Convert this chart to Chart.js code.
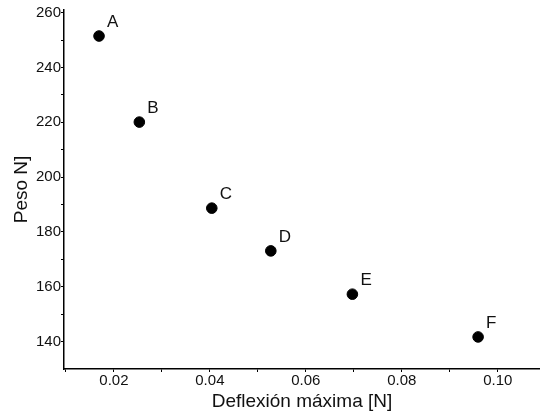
<!DOCTYPE html>
<html>
<head>
<meta charset="utf-8">
<script src="https://cdn.jsdelivr.net/npm/chart.js@4"></script>
<style>
  html, body { margin: 0; padding: 0; background: #fff; }
  #wrap { width: 540px; height: 417px; }
</style>
</head>
<body>
<div id="wrap"><canvas id="chart" width="540" height="417"></canvas></div>
<script>
const puntos = ["A", "B", "C", "D", "E", "F"];
const deflexion = [0.0169, 0.0253, 0.0404, 0.0527, 0.0697, 0.0959];
const peso = [251.5, 220.1, 188.7, 173.1, 157.3, 141.7];
const xTicks = [0.02, 0.04, 0.06, 0.08, 0.10];
const yTicks = [140, 160, 180, 200, 220, 240, 260];

const FONT = "'Liberation Sans', Arial, sans-serif";

// letras junto a cada punto
const letterPlugin = {
  id: "letters",
  afterDatasetsDraw(chart) {
    const ctx = chart.ctx;
    const meta = chart.getDatasetMeta(0);
    ctx.save();
    ctx.fillStyle = "#111";
    ctx.font = "17px " + FONT;
    ctx.textAlign = "left";
    ctx.textBaseline = "alphabetic";
    meta.data.forEach((pt, i) => {
      ctx.fillText(puntos[i], pt.x + 8, pt.y - 9);
    });
    ctx.restore();
  }
};

const ctx = document.getElementById("chart").getContext("2d");
new Chart(ctx, {
  type: "scatter",
  data: {
    datasets: [{
      data: deflexion.map((x, i) => ({ x, y: peso[i] })),
      backgroundColor: "#000",
      borderColor: "#000",
      pointRadius: 5.3,
      pointHoverRadius: 5.3
    }]
  },
  options: {
    responsive: false,
    animation: false,
    layout: { autoPadding: false, padding: { top: 10, right: 0, left: 0, bottom: 0 } },
    plugins: { legend: { display: false }, tooltip: { enabled: false } },
    scales: {
      x: {
        type: "linear",
        min: 0.0096,
        max: 0.1088,
        afterBuildTicks(scale) {
          const t = [];
          for (let v = 0.01; v <= 0.1081; v += 0.01) t.push({ value: Math.round(v * 100) / 100 });
          scale.ticks = t.filter(k => k.value >= 0.0096);
        },
        ticks: {
          color: "#111",
          font: { family: FONT, size: 15 },
          padding: 0,
          maxRotation: 0,
          autoSkip: false,
          callback: (v) => xTicks.some(t => Math.abs(t - v) < 1e-6) ? v.toFixed(2) : ""
        },
        grid: {
          drawOnChartArea: false,
          tickLength: 3,
          tickColor: "#000"
        },
        border: { color: "#000", width: 1.5 },
        title: {
          display: true,
          text: "Deflexión máxima [N]",
          color: "#111",
          font: { family: FONT, size: 19 },
          padding: { top: 3 }
        },
        afterFit(scale) {
          scale.height = 48;
          scale.paddingLeft = 0;
          scale.paddingRight = 0;
        }
      },
      y: {
        min: 130,
        max: 261,
        afterBuildTicks(scale) {
          const t = [];
          for (let v = 140; v <= 260; v += 10) t.push({ value: v });
          scale.ticks = t;
        },
        ticks: {
          color: "#111",
          font: { family: FONT, size: 15 },
          padding: 0,
          autoSkip: false,
          callback: (v) => yTicks.includes(v) ? String(v) : ""
        },
        grid: {
          drawOnChartArea: false,
          tickLength: 3,
          tickColor: "#000"
        },
        border: { color: "#000", width: 1.5 },
        title: {
          display: true,
          text: "Peso N]",
          color: "#111",
          font: { family: FONT, size: 19 },
          padding: { top: 10, bottom: 0 }
        },
        afterFit(scale) {
          scale.width = 64;
          scale.paddingTop = 0;
          scale.paddingBottom = 0;
        }
      }
    }
  },
  plugins: [letterPlugin]
});
</script>
</body>
</html>
